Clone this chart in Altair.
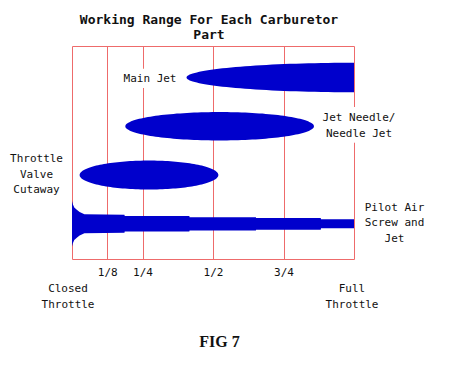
import numpy as np
import pandas as pd
import altair as alt

# ------------------------------------------------------------------ data
parts = ["Main Jet", "Jet Needle/Needle Jet", "Throttle Valve Cutaway",
         "Pilot Air Screw and Jet"]

# elliptical working ranges (fraction of throttle opening)
ell_parts = ["Main Jet", "Jet Needle/Needle Jet", "Throttle Valve Cutaway"]
ell_start = [0.406, 0.189, 0.027]
ell_peak = [1.0, 0.5235, 0.273]
ell_end = [1.0, 0.858, 0.519]
ell_width = [0.303, 0.291, 0.297]          # half thickness (row units)

# pilot circuit profile
pilot_throttle = [0.0, 0.003, 0.008, 0.018, 0.027, 0.044, 0.186, 0.187,
                  0.416, 0.417, 0.652, 0.653, 0.882, 0.883, 1.0]
pilot_width = [0.467, 0.400, 0.332, 0.283, 0.240, 0.195, 0.185, 0.160,
               0.160, 0.136, 0.136, 0.120, 0.120, 0.092, 0.092]

tick_values = [0, 0.125, 0.25, 0.5, 0.75, 1]
tick_labels = ["", "1/8", "1/4", "1/2", "3/4", ""]

title_lines = ["Working Range For Each Carburetor", "Part"]
main_label = ["Main Jet"]
needle_label = ["Jet Needle/", "Needle Jet"]
cutaway_label = ["Throttle", "Valve", "Cutaway"]
pilot_label = ["Pilot Air", "Screw and", "Jet"]
closed_label = ["Closed", "Throttle"]
full_label = ["Full", "Throttle"]
caption = "FIG 7"

# ------------------------------------------------------------------ styles
BLUE = "#0000CC"
RED = "#EE6B6B"
TXT = "#111111"
MONO = "DejaVu Sans Mono"

ell_df = pd.DataFrame({
    "part": ell_parts,
    "row": [parts.index(p) for p in ell_parts],
    "start": ell_start, "peak": ell_peak, "end": ell_end, "width": ell_width,
})
theta_df = pd.DataFrame({"theta": np.linspace(0, np.pi, 81)})  # outline resolution
ell_df = ell_df.merge(theta_df, how="cross")

pilot_df = pd.DataFrame({
    "part": parts[3], "row": parts.index(parts[3]),
    "throttle": pilot_throttle, "width": pilot_width,
})

label_expr = "''"
for v, l in reversed(list(zip(tick_values, tick_labels))):
    label_expr = f"datum.value == {v} ? '{l}' : ({label_expr})"

xs = alt.Scale(domain=[0, 1], nice=False, zero=False)
ys = alt.Scale(domain=[-0.646, 3.722], reverse=True, nice=False, zero=False)
xaxis = alt.Axis(values=tick_values, labelExpr=label_expr, grid=True,
                 gridColor=RED, gridOpacity=1, gridWidth=1, ticks=False,
                 tickSize=0, domain=False, labelFont=MONO, labelFontSize=11,
                 labelColor=TXT, labelPadding=7, labelFlush=False,
                 labelOverlap=False, title=None)
yaxis = alt.Axis(values=[-0.646, 3.722], grid=True, gridColor=RED,
                 gridOpacity=1, gridWidth=1, labels=False, ticks=False,
                 domain=False, title=None)

ellipses = alt.Chart(ell_df).transform_calculate(
    u="-cos(datum.theta)",
    h="datum.width * sin(datum.theta)",
).transform_filter(
    "datum.u <= 0 || datum.end > datum.peak"
).transform_calculate(
    x="datum.u < 0 ? datum.peak + datum.u * (datum.peak - datum.start)"
      " : datum.peak + datum.u * (datum.end - datum.peak)",
    lo="datum.row - datum.h",
    hi="datum.row + datum.h",
).mark_area(color=BLUE, opacity=1).encode(
    x=alt.X("x:Q", scale=xs, axis=xaxis),
    y=alt.Y("lo:Q", scale=ys, axis=yaxis, stack=None),
    y2="hi:Q",
    detail="part:N",
)

pilot = alt.Chart(pilot_df).transform_calculate(
    lo="datum.row - datum.width",
    hi="datum.row + datum.width",
).mark_area(color=BLUE, opacity=1).encode(
    x=alt.X("throttle:Q", scale=xs, axis=xaxis),
    y=alt.Y("lo:Q", scale=ys, axis=yaxis, stack=None),
    y2="hi:Q",
)

one = pd.DataFrame({"k": [0]})


def label(lines, x, y, lh, halo=False, dx=0, datum_x=None):
    enc_x = alt.X(datum=datum_x, scale=xs, axis=xaxis) if datum_x is not None else alt.value(x)
    base = alt.Chart(one)
    layers = []
    if halo:
        layers.append(base.mark_text(
            text=lines, font=MONO, fontSize=11, lineHeight=lh, align="center",
            baseline="top", color="white", stroke="white", strokeWidth=12,
            strokeJoin="round", dx=dx,
        ).encode(x=enc_x, y=alt.value(y)))
    layers.append(base.mark_text(
        text=lines, font=MONO, fontSize=11, lineHeight=lh, align="center",
        baseline="top", color=TXT, dx=dx,
    ).encode(x=enc_x, y=alt.value(y)))
    return layers


texts = []
texts += label(main_label, 78, 27, 16, halo=True)
texts += label(needle_label, 287, 65.7, 16, halo=True)
texts += label(cutaway_label, -35.5, 107, 15.65)
texts += label(pilot_label, 322.5, 155.7, 15.7)
texts += label(closed_label, None, 237, 16, dx=-4, datum_x=0)
texts += label(full_label, None, 237, 16, dx=-2, datum_x=1)

fig = alt.Chart(one).mark_text(
    text=caption, font="Liberation Serif", fontSize=16, fontWeight="bold",
    align="center", baseline="top", color=TXT,
).encode(x=alt.value(147.5), y=alt.value(288))

chart = alt.layer(ellipses, pilot, *texts, fig).properties(
    width=282, height=213,
    autosize=alt.AutoSizeParams(type="none"),
    padding={"left": 64, "top": 38, "right": 90, "bottom": 100},
    title=alt.TitleParams(text=title_lines, font=MONO, fontSize=13,
                          fontWeight="bold", lineHeight=15, anchor="middle",
                          dx=-4, offset=4, color=TXT),
).configure_view(stroke=None)

chart.save("out.html", embed_options={"renderer": "svg", "actions": False})
